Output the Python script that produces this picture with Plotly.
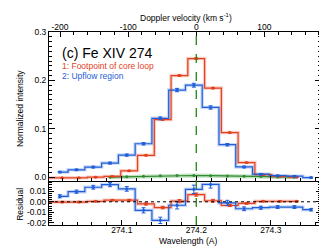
import plotly.graph_objects as go

# ---- data ----
blue_wl = [274.0167, 274.0392, 274.0617, 274.0842, 274.1067, 274.1292, 274.1517, 274.1742,
           274.1967, 274.2192, 274.2417, 274.2642, 274.2867, 274.3092, 274.3317, 274.3542]
red_wl = [273.9974, 274.0199, 274.0424, 274.0649, 274.0874, 274.1099, 274.1324, 274.1549,
          274.1774, 274.1999, 274.2224, 274.2449, 274.2674, 274.2899, 274.3124, 274.3349]

blue_int = [0.0104, 0.015, 0.0207, 0.029, 0.0455, 0.069, 0.1215, 0.180,
            0.190, 0.144, 0.067, 0.021, 0.006, 0.003, 0.002, -0.001]
blue_err = [0.0015, 0.0015, 0.0018, 0.002, 0.0022, 0.0025, 0.003, 0.0035,
            0.004, 0.0035, 0.0025, 0.0018, 0.0015, 0.0013, 0.0013, 0.0012]
red_int = [-0.0015, -0.0015, -0.0015, 0.0, 0.0015, 0.013, 0.045, 0.119,
           0.210, 0.245, 0.184, 0.092, 0.030, 0.005, 0.0015, 0.0]
red_err = [0.0005, 0.0005, 0.0005, 0.0005, 0.0006, 0.0008, 0.001, 0.0012,
           0.0015, 0.0015, 0.0013, 0.001, 0.0008, 0.0006, 0.0005, 0.0005]

green_wl = [274.0842, 274.1067, 274.1292, 274.1517, 274.1742, 274.1967,
            274.2192, 274.2417, 274.2642, 274.2867, 274.3092, 274.3317]
green_int = [0.0, 0.001, 0.002, 0.003, 0.0035, 0.0035, 0.003, 0.0025, 0.002, 0.0012, 0.0005, 0.0]

blue_res = [0.0052, 0.0096, 0.0138, 0.0163, 0.0122, -0.0081, -0.0176, -0.0033,
            0.0118, 0.0165, -0.0011, -0.0066, -0.0056, -0.005, -0.005, -0.0075]
red_res = [-0.0003, -0.0003, -0.0003, 0.0004, 0.0015, 0.0015, -0.002, -0.0055,
           0.0007, 0.0068, 0.001, -0.0035, -0.0015, 0.0005, 0.0005, 0.0004]

LAMBDA0 = 274.2
C_KMS = 299792.458
WL_RANGE = [274.0023, 274.3674]
vel_range = [(w - LAMBDA0) / LAMBDA0 * C_KMS for w in WL_RANGE]

RED = "#e2401e"
BLUE = "#1f5ed6"
GREEN = "#2e8b2e"
RED_BAND = "rgba(235,120,100,0.35)"
BLUE_BAND = "rgba(120,160,235,0.4)"
GREEN_BAND = "rgba(100,175,100,0.4)"
FONT = "Liberation Sans, Arial, sans-serif"

fig = go.Figure()

def band(x, y, color, xa, ya, w=3.5, shape="hvh"):
    fig.add_trace(go.Scatter(x=x, y=y, mode="lines", line=dict(color=color, width=w, shape=shape),
                             xaxis=xa, yaxis=ya, hoverinfo="skip", showlegend=False))

def series(x, y, err, color, xa, ya, shape="hvh", lw=1.2):
    fig.add_trace(go.Scatter(x=x, y=y, mode="lines+markers",
                             line=dict(color=color, width=lw, shape=shape),
                             marker=dict(color=color, size=3),
                             error_y=dict(type="data", array=err, color=color, thickness=1, width=2) if err else None,
                             xaxis=xa, yaxis=ya, showlegend=False))

# main panel
band(green_wl, green_int, GREEN_BAND, "x2", "y", w=4, shape="linear")
band(red_wl, red_int, RED_BAND, "x2", "y")
band(blue_wl, blue_int, BLUE_BAND, "x2", "y")
series(green_wl, green_int, None, GREEN, "x2", "y", shape="linear", lw=1.1)
series(red_wl, red_int, red_err, RED, "x2", "y")
series(blue_wl, blue_int, blue_err, BLUE, "x2", "y")

# residual panel
band(red_wl, red_res, RED_BAND, "x", "y2")
band(blue_wl, blue_res, BLUE_BAND, "x", "y2")
series(red_wl, red_res, red_err, RED, "x", "y2")
series(blue_wl, blue_res, blue_err, BLUE, "x", "y2")

# invisible trace to anchor velocity axis
fig.add_trace(go.Scatter(x=vel_range, y=[0.1, 0.1], mode="lines", line=dict(width=0),
                         xaxis="x3", yaxis="y", showlegend=False, hoverinfo="skip"))

tickfont = dict(family=FONT, size=8.5, color="black")
common = dict(showgrid=False, zeroline=False, showline=True, linecolor="black", linewidth=1,
              ticks="inside", tickcolor="black", tickfont=tickfont)

split = 0.228
fig.update_layout(
    width=327, height=246,
    margin=dict(l=41, r=14, t=24, b=29, autoexpand=False),
    plot_bgcolor="white", paper_bgcolor="white",
    font=dict(family=FONT, size=8.5, color="black"),
    xaxis=dict(**common, domain=[0, 1], anchor="y2", range=WL_RANGE,
               tickvals=[274.1, 274.2, 274.3], ticktext=["274.1", "274.2", "274.3"], ticklen=5,
               ticklabelstandoff=-3,
               minor=dict(ticks="inside", ticklen=3, dtick=0.02, tick0=274.0, tickcolor="black"),
               mirror=False),
    xaxis2=dict(**common, domain=[0, 1], anchor="y", matches="x", showticklabels=False,
                tickvals=[274.1, 274.2, 274.3], ticklen=5,
                minor=dict(ticks="inside", ticklen=3, dtick=0.02, tick0=274.0, tickcolor="black"),
                mirror=False),
    xaxis3=dict(**common, domain=[0, 1], anchor="y", overlaying="x2", side="top", range=vel_range,
                tickvals=[-200, -100, 0, 100], ticktext=["-200", "-100", "0", "100"], ticklen=5,
                ticklabelstandoff=-2,
                minor=dict(ticks="inside", ticklen=3, dtick=20, tick0=0, tickcolor="black"),
                mirror=False),
    yaxis=dict(**common, domain=[split, 1], anchor="x2", range=[-0.008, 0.3],
               tickvals=[0.0, 0.1, 0.2, 0.3], ticktext=["0.0", "0.1", "0.2", "0.3"], ticklen=6,
               minor=dict(ticks="inside", ticklen=3, dtick=0.01, tick0=0, tickcolor="black"),
               mirror="ticks"),
    yaxis2=dict(**common, domain=[0, split], anchor="x", range=[-0.022, 0.0197],
                tickvals=[-0.02, -0.01, 0.0, 0.01], ticktext=["-0.02", "-0.01", "0.00", "0.01"], ticklen=5,
                minor=dict(ticks="inside", ticklen=3, dtick=0.002, tick0=0, tickcolor="black"),
                mirror="ticks"),
)

fig.add_shape(type="line", xref="x", yref="paper", x0=LAMBDA0, x1=LAMBDA0, y0=0, y1=1,
              line=dict(color="#1f8a10", width=1.3, dash="dash"), layer="above")
fig.add_shape(type="line", xref="paper", yref="y2", x0=0, x1=1, y0=0, y1=0,
              line=dict(color="black", width=1, dash="dot"), layer="above")

ann = [
    dict(text="(c) Fe XIV 274", x=0.04, y=0.891, font=dict(size=14, family=FONT, color="black")),
    dict(text="1: Footpoint of core loop", x=0.04, y=0.824, font=dict(size=8.5, family=FONT, color=RED)),
    dict(text="2: Upflow region", x=0.04, y=0.772, font=dict(size=8.5, family=FONT, color=BLUE)),
]
for a in ann:
    fig.add_annotation(xref="paper", yref="paper", xanchor="left", yanchor="middle", showarrow=False, **a)

fig.add_annotation(text="Normalized intensity", xref="paper", yref="paper", x=-0.107, y=0.606,
                   textangle=-90, showarrow=False, xanchor="center", yanchor="middle",
                   font=dict(size=8.5, family=FONT))
fig.add_annotation(text="Residual", xref="paper", yref="paper", x=-0.107, y=0.109,
                   textangle=-90, showarrow=False, xanchor="center", yanchor="middle",
                   font=dict(size=8.5, family=FONT))
fig.add_annotation(text="Wavelength (A)", xref="paper", yref="paper", x=0.511, y=-0.085,
                   showarrow=False, xanchor="center", yanchor="middle", font=dict(size=8.5, family=FONT))
fig.add_annotation(text="Doppler velocity (km s<sup>-1</sup>)", xref="paper", yref="paper", x=0.504, y=1.075,
                   showarrow=False, xanchor="center", yanchor="middle", font=dict(size=8.5, family=FONT))

fig.write_html("out.html")
